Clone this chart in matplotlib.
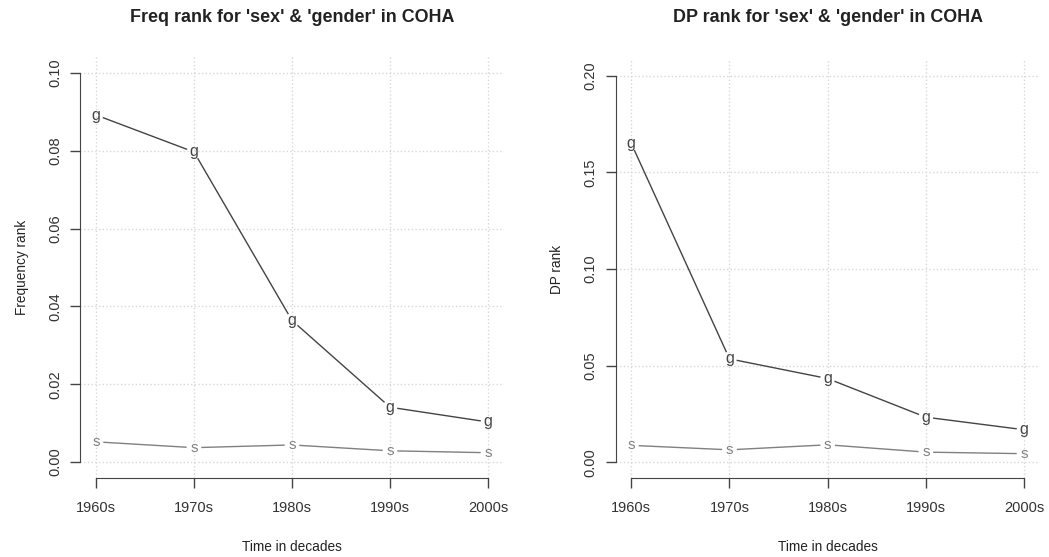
import numpy as np
import matplotlib.pyplot as plt

plt.rcParams['font.family'] = ['Liberation Sans', 'DejaVu Sans']

# data
decades = ["1960s", "1970s", "1980s", "1990s", "2000s"]
freq_gender = [0.0892, 0.0797, 0.0364, 0.0141, 0.0103]
freq_sex = [0.0052, 0.0037, 0.0044, 0.0029, 0.0024]
dp_gender = [0.165, 0.0535, 0.0433, 0.0233, 0.0168]
dp_sex = [0.0087, 0.0064, 0.0090, 0.0052, 0.0044]

x = np.arange(1, len(decades) + 1)


def gapped_line(ax, xs, ys, color, gap=8):
    # R type="b": segments stop short of the point symbols
    pts = ax.transData.transform(np.column_stack([xs, ys]))
    inv = ax.transData.inverted()
    for p0, p1 in zip(pts[:-1], pts[1:]):
        d = p1 - p0
        n = np.hypot(*d)
        if n <= 2 * gap:
            continue
        u = d / n
        a = inv.transform(p0 + u * gap)
        b = inv.transform(p1 - u * gap)
        ax.plot([a[0], b[0]], [a[1], b[1]], color=color, lw=1.0)


def panel(ax, gender, sex, ymax, yticks, ylabel, title):
    pad_y = ymax * 0.04
    ax.set_xlim(0.84, 5.16)
    ax.set_ylim(-pad_y, ymax + pad_y)
    ax.set_xticks(x)
    ax.set_xticklabels(decades)
    ax.set_yticks(yticks)
    ax.set_yticklabels(["%.2f" % t for t in yticks], rotation=90, va='center')
    ax.grid(True, color='#d8d8d8', linestyle=':', lw=1.0)
    ax.set_axisbelow(True)
    for s in ['top', 'right']:
        ax.spines[s].set_visible(False)
    ax.spines['left'].set_bounds(yticks[0], yticks[-1])
    ax.spines['bottom'].set_bounds(1, 5)
    for s in ['left', 'bottom']:
        ax.spines[s].set_color('#444444')
    ax.tick_params(colors='#444444', labelcolor='#333333', length=7,
                   labelsize=10.5, width=1.0)
    ax.tick_params(axis='x', pad=10)
    ax.tick_params(axis='y', pad=6)
    gapped_line(ax, x, gender, '#444444')
    gapped_line(ax, x, sex, '#808080')
    for xi, g, s in zip(x, gender, sex):
        ax.text(xi, g, "g", ha='center', va='center', fontsize=11.5, color='#444444')
        ax.text(xi, s, "s", ha='center', va='center', fontsize=11, color='#808080')
    ax.set_xlabel("Time in decades", fontsize=9.8, color='#222222', labelpad=18)
    ax.set_ylabel(ylabel, fontsize=9.8, color='#222222', labelpad=14)
    bb = ax.get_position()
    fig.text((bb.x0 + bb.x1) / 2, 1 - 17 / 557, title, ha='center', va='center',
             fontsize=12.9, fontweight='bold', color='#222222')


fig = plt.figure(figsize=(10.49, 5.57), dpi=100)
ax1 = fig.add_axes([80.3 / 1049, 0.1425, 423.4 / 1049, 0.7544])
ax2 = fig.add_axes([615.6 / 1049, 0.1425, 424.1 / 1049, 0.7490])

panel(ax1, freq_gender, freq_sex, 0.10, [0.0, 0.02, 0.04, 0.06, 0.08, 0.10],
      "Frequency rank", "Freq rank for 'sex' & 'gender' in COHA")
panel(ax2, dp_gender, dp_sex, 0.20, [0.0, 0.05, 0.10, 0.15, 0.20],
      "DP rank", "DP rank for 'sex' & 'gender' in COHA")

fig.savefig("out.png", dpi=100)
